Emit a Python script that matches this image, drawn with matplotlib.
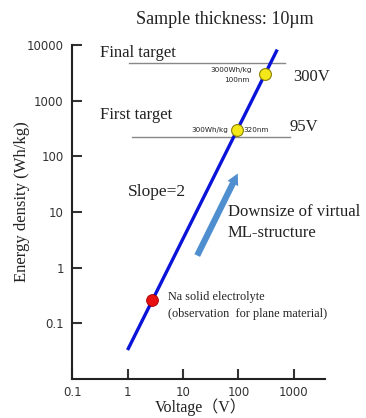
import numpy as np
import matplotlib
matplotlib.use("Agg")
import matplotlib.pyplot as plt
from matplotlib.ticker import FixedLocator, FixedFormatter, NullLocator

# data
line_v = [1, 500]                     # V, slope=2 line end points
line_coef = 1.0 / 30.0                # E = V^2 / 30
target_v = [300, 95]                  # yellow points
target_e = [3000, 300]
na_v = [2.8]                          # red point (Na solid electrolyte)
na_e = [0.26]
final_level = 4800                    # grey target levels
final_span = [1.05, 700]
first_level = 220
first_span = [1.2, 860]

xticks = [0.1, 1, 10, 100, 1000]
xtick_labels = ["0.1", "1", "10", "100", "1000"]
yticks = [0.1, 1, 10, 100, 1000, 10000]
ytick_labels = ["0.1", "1", "10", "100", "1000", "10000"]

SERIF = "Liberation Serif"
SANS = "DejaVu Sans"
INK = "#222222"

fig = plt.figure(figsize=(3.66, 4.18), dpi=100)
ax = fig.add_axes([0.197, 0.093, 0.691, 0.799])
ax.set_xscale("log")
ax.set_yscale("log")
ax.set_xlim(0.1, 3630)
ax.set_ylim(0.01, 10000)

for s in ("top", "right"):
    ax.spines[s].set_visible(False)
for s in ("left", "bottom"):
    ax.spines[s].set_linewidth(1.5)
    ax.spines[s].set_color(INK)

ax.xaxis.set_major_locator(FixedLocator(xticks))
ax.xaxis.set_major_formatter(FixedFormatter(xtick_labels))
ax.yaxis.set_major_locator(FixedLocator(yticks))
ax.yaxis.set_major_formatter(FixedFormatter(ytick_labels))
ax.xaxis.set_minor_locator(NullLocator())
ax.yaxis.set_minor_locator(NullLocator())
ax.tick_params(axis="x", direction="in", length=7, width=1.5, pad=5,
               labelsize=8.5, colors="#333333")
ax.tick_params(axis="y", direction="in", length=7, width=1.5, pad=6,
               labelsize=8.5, colors="#333333")

# target levels
ax.plot(final_span, [final_level] * 2, color="#888888", lw=1.0)
ax.plot(first_span, [first_level] * 2, color="#888888", lw=1.0)

# slope=2 line
v = np.array(line_v, dtype=float)
ax.plot(v, line_coef * v ** 2, color="#0a14d8", lw=2.4, solid_capstyle="butt")

ax.plot(target_v, target_e, "o", ms=8.5, mfc="#f5e81a", mec="#8a8000", mew=0.8)
ax.plot(na_v, na_e, "o", ms=8.5, mfc="#e81010", mec="#a00000", mew=0.6)

# arrow
ax.annotate("", xy=(239 / 366, 1 - 171 / 418), xytext=(196 / 366, 1 - 258 / 418),
            xycoords="figure fraction", textcoords="figure fraction",
            arrowprops=dict(arrowstyle="simple,head_length=0.8,head_width=0.85,tail_width=0.45",
                            color="#4f8fcf", lw=0))

# texts
fig.text(225 / 366, 1 - 20 / 418, "Sample thickness: 10\u00b5m", family=SERIF,
         fontsize=13, ha="center", va="center", color=INK)
fig.text(100 / 366, 1 - 53 / 418, "Final target", family=SERIF, fontsize=12,
         ha="left", va="center", color=INK)
fig.text(100 / 366, 1 - 115 / 418, "First target", family=SERIF, fontsize=12,
         ha="left", va="center", color=INK)
fig.text(293 / 366, 1 - 77 / 418, "300V", family=SERIF, fontsize=12,
         ha="left", va="center", color=INK)
fig.text(290 / 366, 1 - 127 / 418, "95V", family=SERIF, fontsize=12,
         ha="left", va="center", color=INK)
fig.text(252 / 366, 1 - 70 / 418, "3000Wh/kg", family=SANS, fontsize=5.2,
         ha="right", va="center", color=INK)
fig.text(250 / 366, 1 - 80 / 418, "100nm", family=SANS, fontsize=5.2,
         ha="right", va="center", color=INK)
fig.text(228 / 366, 1 - 130 / 418, "300Wh/kg", family=SANS, fontsize=5.2,
         ha="right", va="center", color=INK)
fig.text(243 / 366, 1 - 130 / 418, "320nm", family=SANS, fontsize=5.2,
         ha="left", va="center", color=INK)
fig.text(128 / 366, 1 - 192 / 418, "Slope=2", family=SERIF, fontsize=12.5,
         ha="left", va="center", color=INK)
fig.text(228 / 366, 1 - 212 / 418, "Downsize of virtual", family=SERIF, fontsize=12,
         ha="left", va="center", color=INK)
fig.text(228 / 366, 1 - 233 / 418, "ML-structure", family=SERIF, fontsize=12,
         ha="left", va="center", color=INK)
fig.text(168 / 366, 1 - 297 / 418, "Na solid electrolyte", family=SERIF, fontsize=8.8,
         ha="left", va="center", color=INK)
fig.text(168 / 366, 1 - 314 / 418, "(observation  for plane material)", family=SERIF,
         fontsize=8.8, ha="left", va="center", color=INK)

fig.text(22 / 366, 1 - 202 / 418, "Energy density (Wh/kg)", family=SERIF, fontsize=12,
         rotation=90, ha="center", va="center", color=INK)
fig.text(201 / 366, 1 - 407 / 418, "Voltage\uff08V\uff09",
         family=[SERIF, "Noto Sans CJK JP"], fontsize=11.5,
         ha="center", va="center", color=INK)

fig.savefig("out.png", dpi=100)
